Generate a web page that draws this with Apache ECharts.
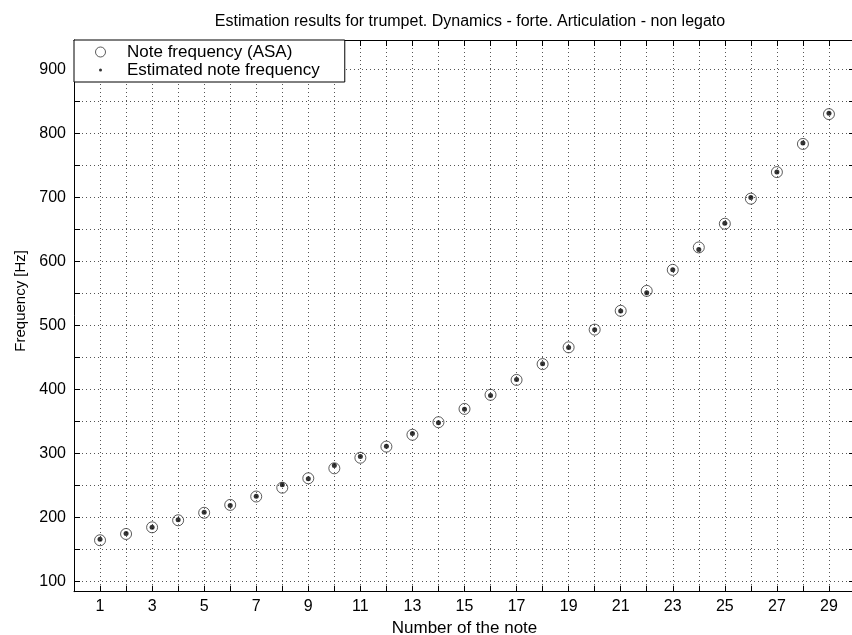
<!DOCTYPE html>
<html>
<head>
<meta charset="utf-8">
<script src="https://cdn.jsdelivr.net/npm/echarts@6/dist/echarts.min.js"></script>
<style>
  html, body { margin: 0; padding: 0; background: #fff; }
  #chart { width: 852px; height: 635px; }
</style>
</head>
<body>
<div id="chart"></div>
<script>
    // note numbers and frequencies
    var noteNumbers = [1, 2, 3, 4, 5, 6, 7, 8, 9, 10, 11, 12, 13, 14, 15,
                       16, 17, 18, 19, 20, 21, 22, 23, 24, 25, 26, 27, 28, 29];
    var asaFreq = [164.8, 174.6, 185.0, 196.0, 207.7, 220.0, 233.1, 246.9, 261.6, 277.2,
                   293.7, 311.1, 329.6, 349.2, 370.0, 392.0, 415.3, 440.0, 466.2, 493.9,
                   523.3, 554.4, 587.3, 622.3, 659.3, 698.5, 740.0, 784.0, 830.6];
    var estFreq = [166.5, 175.2, 185.0, 197.0, 208.6, 219.0, 233.6, 251.5, 261.0, 281.5,
                   295.5, 311.8, 331.5, 348.5, 369.5, 391.0, 415.8, 440.5, 466.0, 493.5,
                   523.0, 551.5, 587.5, 619.0, 660.2, 700.5, 740.0, 785.5, 832.0];
    var yTickValues = [100, 150, 200, 250, 300, 350, 400, 450, 500, 550,
                       600, 650, 700, 750, 800, 850, 900];
    var yLabelValues = [100, 200, 300, 400, 500, 600, 700, 800, 900];

    var chart = echarts.init(document.getElementById('chart'));

    var asaData = [], estData = [];
    for (var i = 0; i < noteNumbers.length; i++) {
        asaData.push([noteNumbers[i], asaFreq[i]]);
        estData.push([noteNumbers[i], estFreq[i]]);
    }

    var font = 'Liberation Sans';
    var gridLine = { show: true, lineStyle: { color: '#555', width: 1, type: [1, 3] } };
    var frameLine = { show: true, onZero: false, lineStyle: { color: '#000', width: 1 } };
    var inTick = { show: true, inside: true, length: 6, lineStyle: { color: '#000' } };

    var option = {
        animation: false,
        backgroundColor: '#fff',
        title: {
            text: 'Estimation results for trumpet. Dynamics - forte. Articulation - non legato',
            left: 470,
            textAlign: 'center',
            top: 14,
            padding: 0,
            textStyle: { fontFamily: font, fontSize: 16, fontWeight: 'normal', color: '#000' }
        },
        legend: {
            orient: 'vertical',
            left: 74,
            top: 40,
            padding: [3, 25, 3, 21],
            itemGap: 0,
            itemWidth: 43,
            itemHeight: 10,
            backgroundColor: '#fff',
            borderColor: '#000',
            borderWidth: 1,
            borderRadius: 0,
            textStyle: { fontFamily: font, fontSize: 17, lineHeight: 18, color: '#000' },
            data: [
                { name: 'Note frequency (ASA)', icon: 'circle',
                  itemStyle: { color: '#fff', borderColor: '#333', borderWidth: 1 } },
                { name: 'Estimated note frequency',
                  icon: 'path://M0,0M10,10M3.5,5a1.5,1.5 0 1,0 3,0a1.5,1.5 0 1,0 -3,0z' }
            ],
            z: 10
        },
        grid: { left: 74, right: -3, top: 40, bottom: 43.3, outerBoundsMode: 'none', containLabel: false },
        xAxis: [
            {
                type: 'value',
                min: 0,
                max: 30,
                interval: 1,
                name: 'Number of the note',
                nameLocation: 'middle',
                nameGap: 25,
                nameTextStyle: { fontFamily: font, fontSize: 17, color: '#000' },
                axisLine: frameLine,
                axisTick: inTick,
                axisLabel: {
                    fontFamily: font, fontSize: 16, color: '#000', margin: 7,
                    formatter: function(v){ return (v % 2 === 1) ? String(v) : ''; }
                },
                splitLine: gridLine
            },
            {
                type: 'value',
                position: 'top',
                min: 0,
                max: 30,
                interval: 1,
                axisLine: frameLine,
                axisTick: inTick,
                axisLabel: { show: false },
                splitLine: { show: false }
            }
        ],
        yAxis: [
            {
                type: 'value',
                min: 84.4,
                max: 946.4,
                name: 'Frequency [Hz]',
                nameLocation: 'middle',
                nameGap: 45,
                nameTextStyle: { fontFamily: font, fontSize: 15, color: '#000', padding: [0, 0, 0, 30] },
                axisLine: frameLine,
                axisTick: { show: true, inside: true, length: 6, customValues: yTickValues,
                            lineStyle: { color: '#000' } },
                axisLabel: { fontFamily: font, fontSize: 16, color: '#000', margin: 8,
                             customValues: yLabelValues },
                splitLine: gridLine
            },
            {
                type: 'value',
                position: 'right',
                min: 84.4,
                max: 946.4,
                axisLine: frameLine,
                axisTick: { show: true, inside: true, length: 6, customValues: yTickValues,
                            lineStyle: { color: '#000' } },
                axisLabel: { show: false },
                splitLine: { show: false }
            }
        ],
        series: [
            {
                name: 'Note frequency (ASA)',
                type: 'scatter',
                symbol: 'circle',
                symbolSize: 11,
                itemStyle: { color: 'rgba(255,255,255,0)', borderColor: '#333', borderWidth: 1 },
                data: asaData,
                z: 3
            },
            {
                name: 'Estimated note frequency',
                type: 'scatter',
                symbol: 'circle',
                symbolSize: 5,
                itemStyle: { color: '#000' },
                data: estData,
                z: 4
            }
        ]
    };

    chart.setOption(option);
</script>
</body>
</html>
